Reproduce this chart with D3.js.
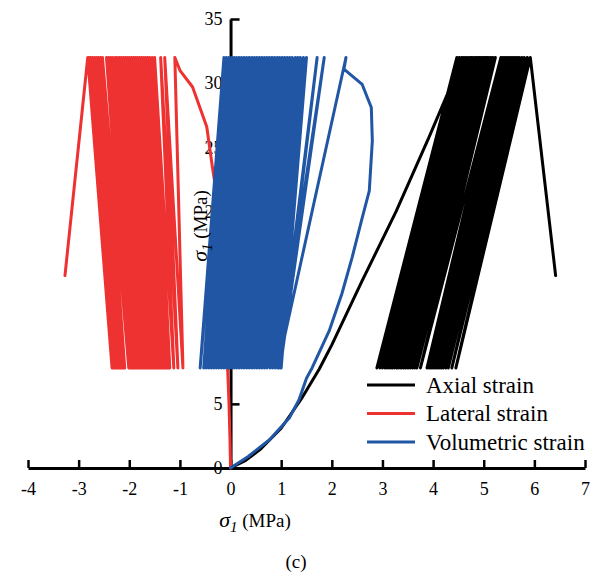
<!DOCTYPE html>
<html>
<head>
<meta charset="utf-8">
<script src="https://cdn.jsdelivr.net/npm/d3@7"></script>
<style>
  html, body { margin: 0; padding: 0; background: #fff; }
  svg { display: block; }
</style>
</head>
<body>
<svg id="chart" width="592" height="576"></svg>
<script>
// ---------------- data ----------------
const xTickValues = [-4, -3, -2, -1, 0, 1, 2, 3, 4, 5, 6, 7];
const yTickValues = [0, 5, 10, 15, 20, 25, 30, 35];
const seriesNames = ["Axial strain", "Lateral strain", "Volumetric strain"];
const seriesColors = ["#000000", "#ee3131", "#2156a5"];

const peakStress = 32.0;   // upper stress of the cycles
const valleyStress = 7.8;  // lower stress of the cycles

// Axial strain
const axialInitial = [[0,0],[0.3,0.6],[0.6,1.5],[1.0,3.1],[1.4,5.4],[1.75,7.7],[2.0,9.6],[2.6,14.6],[3.27,20.0],[3.92,25.8],[4.31,29.4],[4.47,32.0]];
const axialPeaks = [4.47, 4.52, 4.57, 4.61, 4.65, 4.69, 4.73, 4.76, 4.79, 4.83, 4.86, 4.89, 4.92, 4.95, 4.98, 5.01, 5.04, 5.07, 5.10, 5.14, 5.18, 5.23, 5.34, 5.38, 5.42, 5.46, 5.50, 5.54, 5.58, 5.62, 5.66, 5.70, 5.75, 5.80, 5.86, 5.92];
const axialValleys = [2.89, 2.95, 3.00, 3.05, 3.09, 3.13, 3.17, 3.20, 3.24, 3.28, 3.31, 3.35, 3.38, 3.42, 3.45, 3.49, 3.52, 3.56, 3.60, 3.64, 3.68, 3.75, 3.88, 3.92, 3.96, 4.00, 4.04, 4.08, 4.12, 4.16, 4.20, 4.25, 4.30, 4.37, 4.45];
const axialFailure = [[6.42, 15.0]];

// Lateral strain
const lateralInitial = [[0,0],[-0.01,2],[-0.03,5],[-0.06,8],[-0.10,11],[-0.15,14],[-0.20,17],[-0.25,19.6],[-0.29,21.7],[-0.36,23.5],[-0.47,26.6],[-0.75,29.7],[-1.0,31.0],[-1.10,32.0]];
const lateralPeaks = [-1.10, -1.30, -1.38, -1.50, -1.55, -1.60, -1.64, -1.68, -1.72, -1.76, -1.80, -1.84, -1.88, -1.92, -1.96, -2.00, -2.04, -2.08, -2.12, -2.16, -2.20, -2.24, -2.28, -2.33, -2.37, -2.41, -2.45, -2.53, -2.57, -2.61, -2.65, -2.69, -2.73, -2.77, -2.80, -2.82];
const lateralValleys = [-0.94, -1.04, -1.12, -1.20, -1.24, -1.28, -1.32, -1.35, -1.38, -1.42, -1.45, -1.49, -1.52, -1.56, -1.59, -1.63, -1.66, -1.70, -1.73, -1.77, -1.80, -1.84, -1.87, -1.91, -1.94, -1.98, -2.01, -2.09, -2.12, -2.16, -2.19, -2.23, -2.26, -2.30, -2.34];
const lateralFailure = [[-3.27, 15.0]];

// Volumetric strain
const volumetricInitial = [[0,0],[0.35,0.9],[0.77,2.2],[1.16,3.9],[1.35,5.3],[1.5,7.0],[1.61,7.8],[1.95,10.7],[2.20,13.6],[2.40,16.4],[2.60,19.5],[2.74,21.6],[2.80,25.5],[2.78,28.1],[2.60,29.9],[2.24,31.1],[2.28,32.0]];
const volumetricPeaks = [2.28, 1.85, 1.71, 1.50, 1.44, 1.38, 1.33, 1.28, 1.22, 1.17, 1.12, 1.07, 1.02, 0.97, 0.92, 0.87, 0.82, 0.77, 0.72, 0.67, 0.62, 0.57, 0.52, 0.47, 0.42, 0.37, 0.32, 0.27, 0.22, 0.17, 0.12, 0.07, 0.02, -0.03, -0.08, -0.13];
const volumetricValleys = [0.93, 0.98, 0.95, 1.00, 0.94, 0.88, 0.83, 0.78, 0.72, 0.67, 0.62, 0.57, 0.52, 0.47, 0.42, 0.37, 0.32, 0.27, 0.22, 0.17, 0.12, 0.07, 0.02, -0.03, -0.08, -0.13, -0.18, -0.23, -0.28, -0.33, -0.38, -0.43, -0.48, -0.53, -0.60];
const volumetricFailure = [[-0.45, 15.0]];

// ---------------- assemble the stress paths ----------------
function buildPath(initial, peaks, valleys, failure) {
  const pts = initial.slice();
  for (let i = 0; i < valleys.length; i++) {
    pts.push([valleys[i], valleyStress]);
    pts.push([peaks[i + 1], peakStress]);
  }
  return pts.concat(failure);
}
const series = [
  buildPath(axialInitial, axialPeaks, axialValleys, axialFailure),
  buildPath(lateralInitial, lateralPeaks, lateralValleys, lateralFailure),
  buildPath(volumetricInitial, volumetricPeaks, volumetricValleys, volumetricFailure)
];

// ---------------- drawing ----------------
const svg = d3.select("#chart");
const FONT = "'Liberation Serif', 'Times New Roman', serif";

const x = d3.scaleLinear().domain([-4, 7]).range([28, 585]);
const y = d3.scaleLinear().domain([0, 35]).range([468, 19]);

// x axis
const gx = svg.append("g").attr("transform", `translate(0,${y(0)})`)
  .call(d3.axisBottom(x).tickValues(xTickValues).tickSize(-8).tickSizeOuter(0).tickPadding(14).tickFormat(d => String(d)));
gx.select(".domain").attr("stroke", "#000").attr("stroke-width", 3);
gx.selectAll(".tick line").attr("stroke", "#000").attr("stroke-width", 2.5);
gx.selectAll(".tick text").attr("font-family", FONT).attr("font-size", 18).attr("fill", "#000");

// y axis
const gy = svg.append("g").attr("transform", `translate(${x(0)},0)`)
  .call(d3.axisLeft(y).tickValues(yTickValues).tickSize(-9).tickSizeOuter(0).tickPadding(8).tickFormat(d => String(d)));
gy.select(".domain").attr("stroke", "#000").attr("stroke-width", 3);
gy.selectAll(".tick line").attr("stroke", "#000").attr("stroke-width", 2.5);
gy.selectAll(".tick text").attr("font-family", FONT).attr("font-size", 18).attr("fill", "#000");

// data lines
const line = d3.line().x(d => x(d[0])).y(d => y(d[1]));
svg.append("g").selectAll("path").data(series).join("path")
  .attr("d", line)
  .attr("fill", "none")
  .attr("stroke", (d, i) => seriesColors[i])
  .attr("stroke-width", 3)
  .attr("stroke-linejoin", "round")
  .attr("stroke-linecap", "round");

// axis titles
function sigmaLabel(sel) {
  sel.append("tspan").attr("font-style", "italic").attr("font-size", 22).text("σ");
  sel.append("tspan").attr("font-style", "italic").attr("font-size", 15).attr("dy", 5).text("1");
  sel.append("tspan").attr("dy", -5).text(" (MPa)");
}
svg.append("text").attr("x", 255).attr("y", 527)
  .attr("text-anchor", "middle").attr("font-family", FONT).attr("font-size", 19)
  .call(sigmaLabel);
svg.append("text").attr("transform", "translate(207,226) rotate(-90)")
  .attr("text-anchor", "middle").attr("font-family", FONT).attr("font-size", 19)
  .call(sigmaLabel);

// legend
const legend = svg.append("g");
seriesNames.forEach((name, i) => {
  const ly = 385 + i * 28.5;
  legend.append("line").attr("x1", 367).attr("x2", 415).attr("y1", ly).attr("y2", ly)
    .attr("stroke", seriesColors[i]).attr("stroke-width", 3);
  legend.append("text").attr("x", 426).attr("y", ly + 7.5)
    .attr("font-family", FONT).attr("font-size", 23).attr("fill", "#000").text(name);
});

// caption
svg.append("text").attr("x", 296).attr("y", 568).attr("text-anchor", "middle")
  .attr("font-family", FONT).attr("font-size", 19).text("(c)");
</script>
</body>
</html>
